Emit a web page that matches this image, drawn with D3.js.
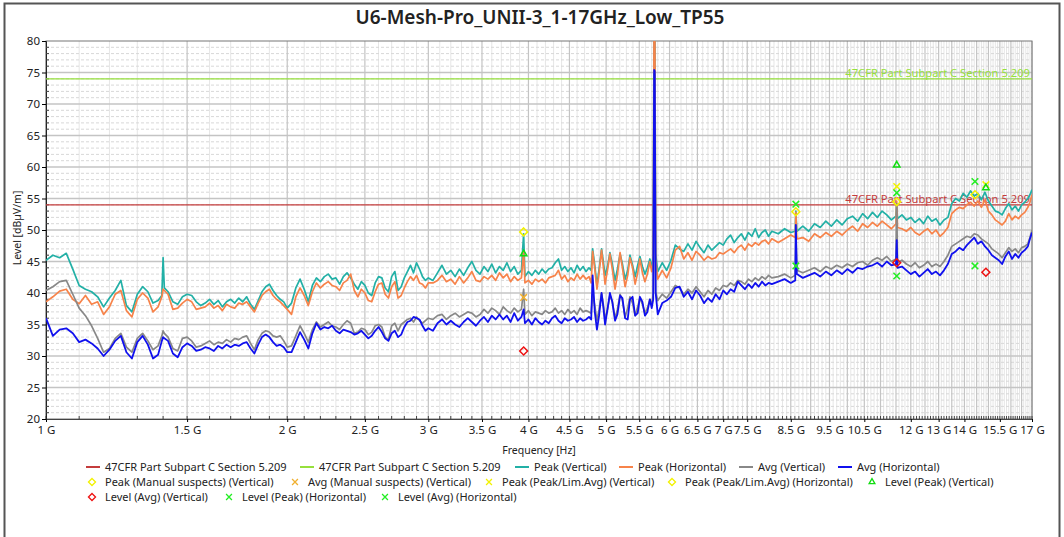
<!DOCTYPE html>
<html>
<head>
<meta charset="utf-8">
<script src="https://cdn.jsdelivr.net/npm/d3@7"></script>
<style>
body { margin: 0; background: #fff; }
text { font-family: "Noto Sans", "Open Sans", sans-serif; }
</style>
</head>
<body>
<svg id="chart" width="1064" height="537"></svg>
<script>

// sweep points (MHz) shared by the four traces
var freqMHz = [
    1000,1020,1040,1060,1080,1100,1120,1140,1160,1180,1200,1220,1240,1260,1280,1300,1320,1340,1360,1380,1395,1400,1405,
    1420,1440,1460,1480,1500,1520,1540,1560,1580,1600,1620,1640,1660,1680,1700,1720,1740,1760,1780,1800,1820,1840,1860,
    1880,1900,1920,1940,1960,1980,2000,
    2025,2050,2075,2100,2125,2150,2175,2200,2225,2250,2275,2300,2325,2350,2375,2400,2425,2450,2475,2500,2525,2550,2575,
    2600,2625,2650,2675,2700,2725,2750,2775,2800,2825,2850,2875,2900,2925,2950,2975,3000,
    3040,3080,3120,3160,3200,3240,3280,3320,3360,3400,3440,3480,3520,3560,3600,3640,3680,3720,3760,3800,3840,3880,3920,
    3945,3960,4000,4040,4080,4120,4160,4200,4240,4280,4320,4360,4400,4440,4480,4520,4560,4600,4640,4680,4720,4760,
    4790,4810,4840,4870,4900,4935,4960,4985,5020,5055,5090,5130,5165,5205,5240,5280,5320,5355,5395,5435,5475,5510,5550,
    5590,5630,5670,5700,
    5725,5740,5750,5765,
    5800,5875,5950,6025,6100,6175,6250,6325,6400,6475,6550,6625,6700,6775,6850,6925,7000,7075,7150,7225,7300,7375,7450,
    7525,7600,7675,7750,7825,7900,7975,8050,
    8200,8350,8500,8610,8625,8650,8800,8950,9100,9250,9400,9550,9700,9850,10000,10150,10300,10450,10600,10750,10900,
    11050,11200,11350,11500,11525,11550,11700,11850,12000,12150,12300,12450,12600,12750,12900,13050,13200,13350,13500,
    13650,13800,13950,14100,14250,14400,14550,14700,14850,15000,15150,15300,15450,15600,15750,15900,16050,16200,16350,
    16500,16650,16800,16900,17000
];

var peakVertical = [
    45.2,46.0,45.6,46.3,43.8,41.2,40.6,40.2,39.4,37.8,39.2,40.4,42.0,38.0,37.0,39.8,41.0,40.2,38.4,38.8,39.6,45.6,40.8,
    40.2,38.6,38.2,39.4,39.8,39.6,38.6,38.0,38.4,39.0,38.2,38.8,37.8,38.6,39.0,38.4,39.2,38.6,39.4,38.2,37.4,38.8,40.2,
    41.0,41.4,40.4,39.6,39.0,38.6,37.6,
    38.4,40.8,42.2,40.6,38.6,41.2,42.4,41.8,42.6,43.0,42.2,42.4,41.4,42.6,43.2,42.4,41.4,40.6,41.8,41.2,40.0,39.6,41.6,
    42.6,42.4,40.8,40.2,42.6,43.4,40.4,41.0,42.4,43.4,44.4,43.2,44.8,43.8,42.6,42.0,42.4,
    42.0,43.2,44.4,43.0,43.6,42.6,43.8,42.8,44.0,45.0,43.6,43.0,44.2,43.4,44.6,43.2,44.2,43.6,44.8,43.4,44.2,43.0,43.6,
    49.4,42.6,43.4,42.8,43.6,43.0,43.8,43.2,43.8,44.0,44.8,45.4,43.6,44.2,43.4,44.0,43.2,44.4,43.6,44.2,43.4,44.0,
    43.6,47.0,44.4,41.2,43.8,47.0,45.0,42.8,44.2,46.4,44.6,42.0,43.8,46.2,44.6,42.2,43.6,46.0,44.4,42.6,44.4,45.8,44.2,
    43.0,44.0,45.4,44.0,
    46.0,88.0,88.0,46.2,
    43.4,44.8,43.6,45.2,47.6,47.0,46.6,47.8,46.8,48.2,47.2,46.4,47.6,46.8,47.4,48.0,47.6,48.6,49.2,48.0,48.8,49.4,48.4,
    49.6,49.0,50.2,48.8,49.6,50.0,49.0,49.8,
    49.4,50.2,49.6,49.8,53.0,49.8,50.6,49.8,51.0,50.4,51.4,50.6,51.6,50.8,51.8,52.2,51.4,52.6,51.8,52.8,52.0,
    53.0,52.4,51.6,52.2,54.0,51.8,52.4,51.6,52.0,51.2,51.8,51.0,52.2,51.4,51.8,50.8,51.6,52.0,54.2,
    55.0,54.6,55.8,55.2,56.2,55.4,55.8,54.8,56.0,54.6,53.8,53.0,52.8,52.4,53.4,54.2,53.2,53.8,53.0,
    54.0,54.4,55.0,55.6,56.4
];

var peakHorizontal = [
    38.6,39.4,40.3,40.6,39.0,38.3,39.6,38.2,38.6,36.6,37.8,39.8,40.4,37.2,36.2,39.0,40.0,39.2,37.0,37.8,39.4,40.6,40.4,
    39.8,37.4,37.6,38.4,39.0,38.6,37.4,37.6,37.8,38.4,37.6,38.0,37.2,38.2,37.8,37.6,38.4,38.2,38.6,37.8,37.0,38.4,39.6,
    40.2,40.6,39.6,39.0,38.6,38.0,37.4,
    36.6,39.4,40.8,39.6,38.0,40.2,41.6,40.8,41.4,41.8,41.2,41.0,40.4,41.6,42.0,43.0,40.4,39.4,40.6,40.0,38.8,38.6,40.2,
    41.4,41.6,39.8,39.2,41.0,41.8,39.2,39.6,40.8,41.8,42.6,42.0,42.8,41.6,41.4,40.8,41.6,
    41.6,42.0,42.8,41.8,42.2,41.4,42.6,41.6,42.4,43.4,42.0,41.8,42.6,42.2,42.8,42.0,43.2,42.4,43.0,41.8,42.6,42.0,42.4,
    46.6,41.6,42.0,41.4,42.2,41.8,42.2,41.6,42.4,42.6,42.8,43.6,42.2,42.8,41.8,42.4,42.0,43.0,42.2,42.8,42.2,42.6,
    41.6,46.6,43.8,40.6,43.2,46.8,44.2,41.4,43.6,46.2,43.8,40.6,42.8,46.4,44.0,41.0,42.8,45.6,44.0,41.4,43.2,45.4,43.2,
    41.8,43.0,45.0,43.4,
    45.0,88.0,88.0,45.4,
    42.2,43.6,42.4,44.0,46.8,47.4,45.4,46.4,45.2,46.6,46.0,45.2,45.8,45.4,45.6,46.4,46.2,46.6,47.0,46.4,47.2,47.6,46.8,
    47.8,47.4,48.0,47.6,48.2,48.4,47.8,48.6,
    48.0,48.6,49.2,48.8,52.8,48.6,48.8,48.2,49.4,48.8,49.6,49.0,49.8,49.2,50.0,50.6,49.8,51.0,50.4,51.2,50.6,
    51.4,50.8,50.2,51.0,54.6,50.4,50.2,49.8,50.4,49.6,49.2,49.8,50.2,49.4,50.0,49.0,49.6,50.4,52.6,
    53.2,53.6,53.4,54.0,54.4,53.8,54.6,53.6,54.8,53.0,52.4,51.6,51.2,50.8,51.4,52.6,51.6,52.2,51.8,
    52.4,52.8,53.6,54.4,55.6
];

var avgVertical = [
    40.4,41.0,41.8,42.0,39.8,37.6,36.4,34.8,32.8,30.6,31.2,32.8,33.6,31.4,30.6,32.8,33.6,32.4,31.0,31.6,33.2,34.0,33.6,
    33.0,31.2,30.8,32.8,33.0,32.4,31.4,31.6,32.0,32.4,31.8,32.2,32.0,32.6,32.2,32.8,32.6,33.0,33.2,32.0,31.0,32.6,33.6,
    34.0,33.8,33.2,33.0,33.2,32.4,31.4,
    31.6,33.2,34.8,33.6,32.2,34.2,35.4,34.6,35.0,35.4,34.8,34.6,34.2,35.0,35.6,35.2,33.6,33.8,34.4,34.2,33.4,33.8,34.8,
    35.0,34.6,33.0,32.6,34.8,35.2,34.0,35.0,35.4,35.8,36.0,35.4,36.2,35.6,35.2,35.6,36.0,
    35.8,36.4,36.6,35.8,36.4,36.8,36.2,36.6,37.0,36.8,36.2,36.6,37.4,36.8,37.6,37.2,36.6,37.8,37.2,36.8,37.6,37.0,37.4,
    40.6,36.6,37.2,36.4,37.0,36.8,36.6,37.2,36.8,37.0,37.6,36.8,37.2,36.6,37.4,36.8,37.2,36.6,37.6,37.0,37.2,37.0,
    36.8,39.8,38.0,35.6,37.4,40.0,38.2,35.8,37.4,39.6,38.6,36.0,37.4,39.8,38.8,36.2,37.6,39.4,38.4,36.4,37.8,39.2,38.2,
    36.8,37.6,39.0,38.0,
    40.0,74.8,74.6,40.2,
    38.8,39.8,39.2,40.2,41.2,40.8,39.8,40.6,40.0,41.0,40.2,39.4,40.4,39.8,40.8,40.4,41.2,41.0,41.6,41.2,42.0,41.8,41.4,
    42.2,41.8,42.4,42.0,42.6,42.2,42.8,42.4,
    42.6,43.0,42.4,42.8,50.0,43.6,43.2,43.6,44.0,43.4,44.2,43.8,44.4,44.0,44.6,44.2,44.8,45.0,44.4,45.2,45.6,
    45.2,45.8,45.0,45.4,54.2,44.8,45.2,44.6,44.2,44.8,44.0,44.4,45.0,44.2,44.6,44.2,45.0,46.0,47.4,
    47.8,48.2,48.6,49.0,48.8,49.4,49.2,48.6,48.2,47.8,47.0,46.6,46.2,45.6,46.4,47.2,46.6,47.0,46.4,
    47.2,47.4,47.8,48.8,50.0
];

var avgHorizontal = [
    36.0,33.2,34.2,34.4,33.6,32.2,32.6,32.0,31.2,30.0,31.0,32.4,33.2,30.6,29.6,32.2,33.2,31.8,29.6,30.2,32.4,33.0,32.8,
    32.4,30.4,29.8,31.4,32.0,31.6,30.8,31.0,31.4,31.2,30.8,31.6,31.2,31.8,31.4,31.8,31.6,32.0,32.2,31.2,30.4,31.8,33.0,
    33.4,33.0,32.2,31.6,31.8,31.4,30.6,
    30.6,32.2,33.8,32.6,31.2,33.6,35.2,34.2,34.6,34.4,34.8,34.0,33.6,34.2,34.0,33.8,33.4,33.6,34.0,33.4,32.8,33.2,34.0,
    34.6,33.8,32.8,32.4,33.6,34.0,33.0,33.4,34.6,35.4,35.6,36.2,36.0,35.8,34.8,34.0,34.4,
    34.0,35.2,35.8,35.0,35.6,35.0,34.6,35.4,36.0,35.4,34.8,35.6,36.2,35.4,36.4,35.8,36.6,35.8,36.4,35.4,36.8,35.6,36.2,
    37.4,35.2,35.8,35.0,36.0,35.4,35.0,35.6,35.2,36.0,36.4,35.6,35.2,36.0,35.6,35.8,36.2,35.4,36.0,35.6,35.8,36.2,
    35.8,42.8,37.0,34.2,36.4,40.0,37.8,35.0,37.4,40.0,38.6,35.6,36.6,39.6,39.2,36.0,35.8,39.0,39.4,36.4,36.8,39.4,38.6,
    36.4,37.0,39.0,37.6,
    39.0,75.4,75.2,40.0,
    36.6,38.4,38.8,39.4,40.8,41.0,39.4,40.2,39.0,40.4,39.6,38.4,39.2,38.6,39.8,39.0,40.4,39.8,40.6,40.2,41.8,41.2,40.6,
    41.4,40.8,41.6,41.0,41.8,41.2,41.6,41.4,
    41.8,42.2,41.6,42.0,50.8,43.0,42.4,42.8,43.2,42.6,43.4,42.8,43.6,43.0,43.8,43.2,44.0,43.8,44.2,44.4,44.8,
    44.2,45.0,44.4,44.6,48.4,44.0,44.2,43.6,43.0,43.4,42.6,43.2,43.8,43.0,43.4,42.8,43.6,44.6,46.2,
    46.6,47.2,46.8,47.6,48.2,48.8,47.8,48.2,47.4,46.8,46.0,45.6,45.2,44.6,45.8,46.6,45.4,46.2,45.6,
    46.4,46.8,47.4,48.6,49.6
];

// limit lines (dBuV/m)
var limitNames = ["47CFR Part Subpart C Section 5.209", "47CFR Part Subpart C Section 5.209"];
var limitLevels = [54, 74];

// final measurement markers: [GHz, dBuV/m]
var peakManualVert = [[3.945, 49.7]];
var avgManualVert = [[3.945, 39.3]];
var peakLimAvgVert = [[11.525, 56.9], [14.89, 57.2]];
var peakLimAvgHorz = [[8.625, 52.9], [11.525, 54.5], [14.43, 55.6]];
var levelPeakVert = [[3.945, 46.2], [11.525, 60.3], [14.89, 56.7]];
var levelAvgVert = [[3.945, 30.8], [11.525, 44.8], [14.89, 43.3]];
var levelPeakHorz = [[8.625, 54.1], [11.525, 55.9], [14.43, 57.7]];
var levelAvgHorz = [[8.625, 44.3], [11.525, 42.7], [14.43, 44.3]];

var xTickValues = [1, 1.5, 2, 2.5, 3, 3.5, 4, 4.5, 5, 5.5, 6, 6.5, 7, 7.5, 8.5, 9.5, 10.5, 12, 13, 14, 15.5, 17];
var xTickLabels = ["1 G", "1.5 G", "2 G", "2.5 G", "3 G", "3.5 G", "4 G", "4.5 G", "5 G", "5.5 G", "6 G", "6.5 G",
    "7 G", "7.5 G", "8.5 G", "9.5 G", "10.5 G", "12 G", "13 G", "14 G", "15.5 G", "17 G"];
var yTickValues = [20, 25, 30, 35, 40, 45, 50, 55, 60, 65, 70, 75, 80];

var chartTitle = "U6-Mesh-Pro_UNII-3_1-17GHz_Low_TP55";


var svg = d3.select("#chart");
var plotLeft = 46, plotRight = 1032, plotTop = 41, plotBottom = 419;

var x = d3.scaleLog().domain([1, 17]).range([plotLeft, plotRight]);
var y = d3.scaleLinear().domain([20, 80]).range([plotBottom, plotTop]);

// outer frame
svg.append("rect")
    .attr("x", 4.5).attr("y", 3.5)
    .attr("width", 1055).attr("height", 560)
    .attr("fill", "none").attr("stroke", "#555").attr("stroke-width", 2);

svg.append("text")
    .attr("x", 540).attr("y", 24)
    .attr("text-anchor", "middle")
    .style("font-size", "19px").style("font-weight", 600)
    .attr("fill", "#222")
    .text(chartTitle);

// grid
var grid = svg.append("g");
var minorX = d3.range(10, 171).map(function (i) { return i / 10; })
    .filter(function (d) { return Math.abs(d * 2 - Math.round(d * 2)) > 1e-6; });
var majorX = d3.range(2, 35).map(function (i) { return i / 2; });
var minorY = d3.range(20, 81).filter(function (d) { return d % 5 != 0; });
var majorY = d3.range(25, 80, 5);

grid.selectAll("line.minx").data(minorX).enter().append("line")
    .attr("x1", function (d) { return x(d); }).attr("x2", function (d) { return x(d); })
    .attr("y1", plotTop).attr("y2", plotBottom)
    .attr("stroke", "#e6e6e6").attr("stroke-width", 1);
grid.selectAll("line.miny").data(minorY).enter().append("line")
    .attr("x1", plotLeft).attr("x2", plotRight)
    .attr("y1", function (d) { return y(d); }).attr("y2", function (d) { return y(d); })
    .attr("stroke", "#d8d8d8").attr("stroke-width", 1).attr("stroke-dasharray", "3,2");
grid.selectAll("line.majx").data(majorX).enter().append("line")
    .attr("x1", function (d) { return x(d); }).attr("x2", function (d) { return x(d); })
    .attr("y1", plotTop).attr("y2", plotBottom)
    .attr("stroke", "#c4c4c4").attr("stroke-width", 1.2);
grid.selectAll("line.majy").data(majorY).enter().append("line")
    .attr("x1", plotLeft).attr("x2", plotRight)
    .attr("y1", function (d) { return y(d); }).attr("y2", function (d) { return y(d); })
    .attr("stroke", "#c4c4c4").attr("stroke-width", 1.5);

// frame of plot
svg.append("rect")
    .attr("x", plotLeft).attr("y", plotTop).attr("width", plotRight - plotLeft).attr("height", plotBottom - plotTop)
    .attr("fill", "none").attr("stroke", "#777").attr("stroke-width", 1);

// axes
var xAxis = d3.axisBottom(x).tickValues(xTickValues)
    .tickFormat(function (d, i) { return xTickLabels[i]; }).tickSize(3).tickPadding(4);
var gx = svg.append("g").attr("transform", "translate(0," + plotBottom + ")").call(xAxis);
gx.selectAll("text").style("font-size", "11.5px").attr("fill", "#222").style("font-family", "'Noto Sans'");
gx.select(".domain").attr("stroke", "#444");

svg.append("g").selectAll("line").data(minorX.concat(majorX)).enter().append("line")
    .attr("x1", function (d) { return x(d); }).attr("x2", function (d) { return x(d); })
    .attr("y1", plotBottom).attr("y2", plotBottom - 3).attr("stroke", "#444");

var yAxis = d3.axisLeft(y).tickValues(yTickValues).tickSize(4).tickPadding(2);
var gy = svg.append("g").attr("transform", "translate(" + plotLeft + ",0)").call(yAxis);
gy.selectAll("text").style("font-size", "11.5px").attr("fill", "#222").style("font-family", "'Noto Sans'");
gy.select(".domain").attr("stroke", "#222");
svg.append("g").selectAll("line").data(minorY).enter().append("line")
    .attr("x1", plotLeft).attr("x2", plotLeft + 3)
    .attr("y1", function (d) { return y(d); }).attr("y2", function (d) { return y(d); })
    .attr("stroke", "#444");

svg.append("text")
    .attr("transform", "translate(21," + 228 + ") rotate(-90)")
    .attr("text-anchor", "middle").style("font-size", "10.5px").attr("fill", "#222")
    .text("Level [dB\u00b5V/m]");
svg.append("text")
    .attr("x", 539).attr("y", 454).attr("text-anchor", "middle")
    .style("font-size", "10.5px").attr("fill", "#222")
    .text("Frequency [Hz]");

// clip for traces
svg.append("clipPath").attr("id", "plotclip").append("rect")
    .attr("x", plotLeft).attr("y", plotTop).attr("width", plotRight - plotLeft).attr("height", plotBottom - plotTop);
var plot = svg.append("g").attr("clip-path", "url(#plotclip)");

var limitColors = ["#c43c3c", "#96e03c"];
limitLevels.forEach(function (lv, i) {
    plot.append("path")
        .datum([1, 17])
        .attr("d", d3.line().x(function (d) { return x(d); }).y(function () { return y(lv); }))
        .attr("stroke", limitColors[i]).attr("stroke-width", 1.3).attr("fill", "none");
    plot.append("text")
        .attr("x", plotRight - 2).attr("y", y(lv) - 1.5).attr("text-anchor", "end")
        .style("font-size", "11.2px").attr("fill", limitColors[i])
        .text(limitNames[i]);
});

var line = d3.line()
    .x(function (d) { return x(d.f); })
    .y(function (d) { return y(d.v); });

function trace(values) {
    return freqMHz.map(function (f, i) { return { f: f / 1000, v: values[i] }; });
}

var traces = [
    { values: peakVertical, color: "#22b0a6", w: 1.7 },
    { values: peakHorizontal, color: "#f7834a", w: 1.7 },
    { values: avgVertical, color: "#888888", w: 1.7 },
    { values: avgHorizontal, color: "#1010ee", w: 1.8 }
];
traces.forEach(function (t) {
    plot.append("path").datum(trace(t.values))
        .attr("d", line)
        .attr("fill", "none").attr("stroke", t.color).attr("stroke-width", t.w)
        .attr("stroke-linejoin", "round");
});

// markers
var symTimes = d3.symbolTimes || d3.symbolCross;
var symDiamond = d3.symbolDiamond2 || d3.symbolDiamond;
var symTriangle = d3.symbolTriangle2 || d3.symbolTriangle;

var markerSets = [
    { data: peakManualVert, sym: symDiamond, color: "#f2f200", size: 40, label: "Peak (Manual suspects) (Vertical)" },
    { data: avgManualVert, sym: symTimes, color: "#f0b030", size: 30, label: "Avg (Manual suspects) (Vertical)" },
    { data: peakLimAvgVert, sym: symTimes, color: "#f2f200", size: 30, label: "Peak (Peak/Lim.Avg) (Vertical)" },
    { data: peakLimAvgHorz, sym: symDiamond, color: "#f2f200", size: 40, label: "Peak (Peak/Lim.Avg) (Horizontal)" },
    { data: levelPeakVert, sym: symTriangle, color: "#10dd10", size: 30, label: "Level (Peak) (Vertical)" },
    { data: levelAvgVert, sym: symDiamond, color: "#ee1111", size: 40, label: "Level (Avg) (Vertical)" },
    { data: levelPeakHorz, sym: symTimes, color: "#22ee22", size: 30, label: "Level (Peak) (Horizontal)" },
    { data: levelAvgHorz, sym: symTimes, color: "#22ee22", size: 30, label: "Level (Avg) (Horizontal)" }
];
markerSets.forEach(function (m) {
    svg.append("g").selectAll("path").data(m.data).enter().append("path")
        .attr("transform", function (d) { return "translate(" + x(d[0]) + "," + y(d[1]) + ")"; })
        .attr("d", d3.symbol().type(m.sym).size(m.size))
        .attr("fill", "none").attr("stroke", m.color).attr("stroke-width", 1.5);
});

// legend
var legend = svg.append("g").style("font-size", "11px");
var lineLegend = [
    { label: limitNames[0], color: limitColors[0], x: 86 },
    { label: limitNames[1], color: limitColors[1], x: 300 },
    { label: "Peak (Vertical)", color: "#22b0a6", x: 515 },
    { label: "Peak (Horizontal)", color: "#f7834a", x: 619 },
    { label: "Avg (Vertical)", color: "#888888", x: 739 },
    { label: "Avg (Horizontal)", color: "#1010ee", x: 838 }
];
lineLegend.forEach(function (d) {
    legend.append("line").attr("x1", d.x).attr("x2", d.x + 14).attr("y1", 467).attr("y2", 467)
        .attr("stroke", d.color).attr("stroke-width", 2);
    legend.append("text").attr("x", d.x + 19).attr("y", 471).attr("fill", "#222").text(d.label);
});
var markerLegendPos = [[92, 482], [295, 482], [489, 482], [672, 482], [872, 482], [92, 497], [229, 497], [385, 497]];
markerSets.forEach(function (m, i) {
    var p = markerLegendPos[i];
    legend.append("path").attr("transform", "translate(" + p[0] + "," + p[1] + ")")
        .attr("d", d3.symbol().type(m.sym).size(m.size * 0.8))
        .attr("fill", "none").attr("stroke", m.color).attr("stroke-width", 1.3);
    legend.append("text").attr("x", p[0] + 13).attr("y", p[1] + 4).attr("fill", "#222").text(m.label);
});

</script>
</body>
</html>
